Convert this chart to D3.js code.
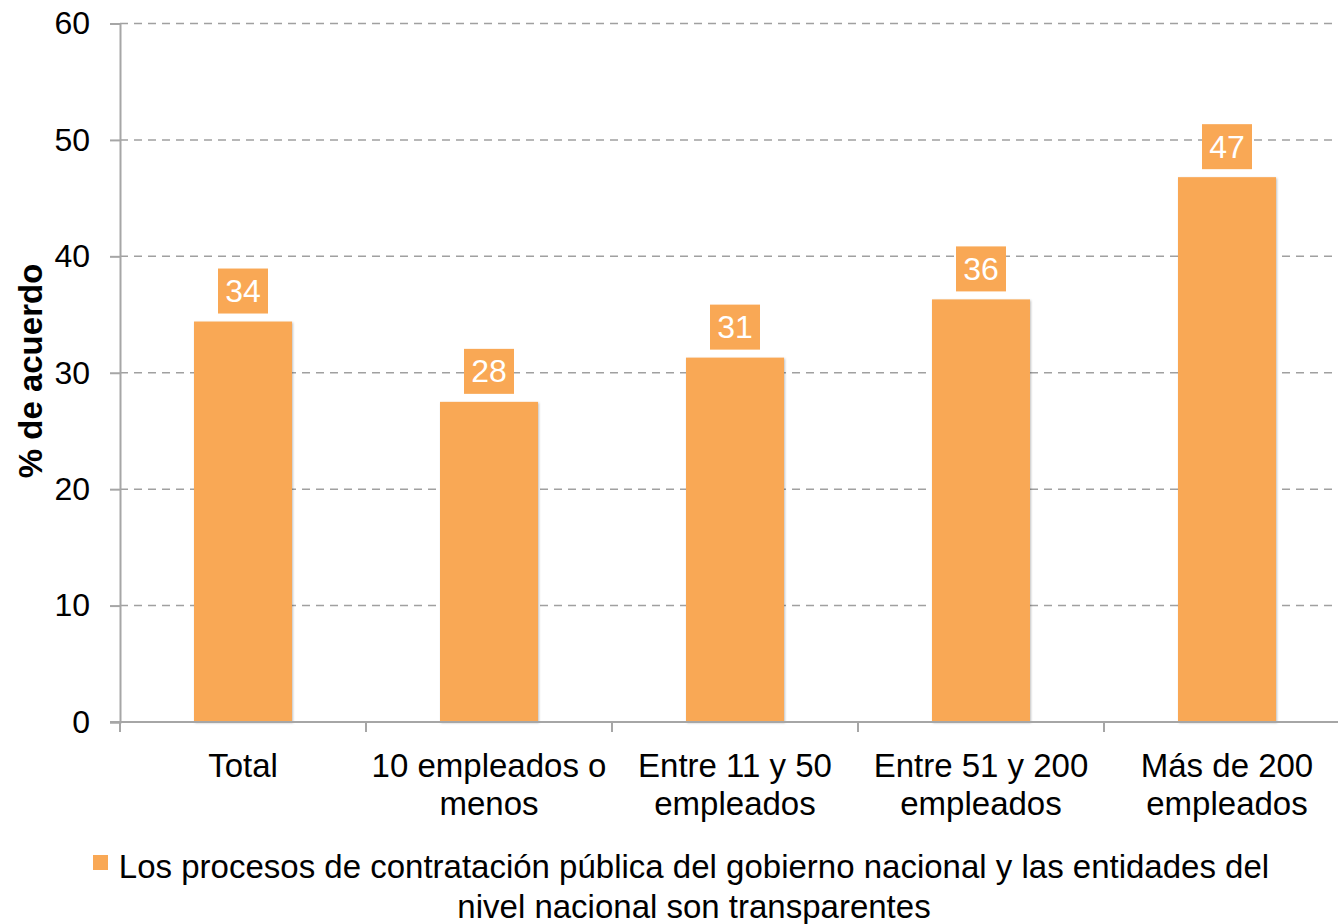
<!DOCTYPE html>
<html lang="es">
<head>
<meta charset="UTF-8">
<script src="https://d3js.org/d3.v7.min.js"></script>
<style>
  body { margin: 0; background: #fff; }
  text { font-family: "Liberation Sans", Arial, sans-serif; }
</style>
</head>
<body>
<script>
// data
var categories = [["Total"], ["10 empleados o", "menos"], ["Entre 11 y 50", "empleados"], ["Entre 51 y 200", "empleados"], ["Más de 200", "empleados"]];
var values = [34.4, 27.5, 31.3, 36.3, 46.8];
var yTicks = [0, 10, 20, 30, 40, 50, 60];
var legendLines = ["Los procesos de contratación pública del gobierno nacional y las entidades del", "nivel nacional son transparentes"];

var W = 1338, H = 924;
var mLeft = 120, mTop = 23.5, plotRight = 1350, mBottom = 722;
var barColor = "#f9a855";

var svg = d3.select("body").append("svg")
    .attr("width", W).attr("height", H);

var x = d3.scaleBand()
    .domain(d3.range(categories.length))
    .range([mLeft, plotRight])
    .paddingInner(0.6).paddingOuter(0.3);

var y = d3.scaleLinear().domain([0, 60]).range([mBottom, mTop]);

// gridlines
svg.append("g").selectAll("line")
    .data(yTicks.filter(function (d) { return d > 0; }))
    .enter().append("line")
    .attr("x1", mLeft).attr("x2", W)
    .attr("y1", function (d) { return y(d); })
    .attr("y2", function (d) { return y(d); })
    .attr("stroke", "#a0a0a0").attr("stroke-width", 1.5)
    .attr("stroke-dasharray", "8,6");

// bars with faint shadow
var defs = svg.append("defs");
var f = defs.append("filter").attr("id", "sh").attr("x", "-10%").attr("y", "-10%").attr("width", "120%").attr("height", "120%");
f.append("feDropShadow").attr("dx", 1).attr("dy", 1).attr("stdDeviation", 1.2).attr("flood-color", "#000").attr("flood-opacity", 0.25);

var bandStep = x.step();
svg.append("g").selectAll("rect")
    .data(values)
    .enter().append("rect")
    .attr("x", function (d, i) { return x(i) + x.bandwidth() / 2 - 49; })
    .attr("width", 98)
    .attr("y", function (d) { return y(d); })
    .attr("height", function (d) { return mBottom - y(d); })
    .attr("fill", barColor)
    .attr("filter", "url(#sh)");

// value labels
var lab = svg.append("g").selectAll("g")
    .data(values)
    .enter().append("g")
    .attr("transform", function (d, i) {
        return "translate(" + (x(i) + x.bandwidth() / 2) + "," + (y(d) - 31) + ")";
    });
lab.append("rect")
    .attr("x", -25).attr("y", -22).attr("width", 50).attr("height", 45)
    .attr("fill", barColor);
lab.append("text")
    .attr("text-anchor", "middle").attr("dy", "0.36em")
    .attr("font-size", 32).attr("fill", "#fff")
    .text(function (d) { return Math.round(d); });

// y axis
var yAxis = d3.axisLeft(y).tickValues(yTicks).tickSize(10).tickPadding(20);
var gy = svg.append("g").attr("transform", "translate(" + mLeft + ",0)").call(yAxis);
gy.select(".domain").attr("stroke", "#a6a6a6").attr("stroke-width", 2);
gy.selectAll(".tick line").attr("stroke", "#a6a6a6").attr("stroke-width", 2);
gy.selectAll(".tick text").attr("font-size", 32).attr("fill", "#000")
    .style("font-family", "Liberation Sans, Arial, sans-serif");

// x axis baseline and ticks at band boundaries
svg.append("line")
    .attr("x1", mLeft - 10).attr("x2", W).attr("y1", mBottom).attr("y2", mBottom)
    .attr("stroke", "#a6a6a6").attr("stroke-width", 2);
var bounds = d3.range(categories.length + 1).map(function (i) { return mLeft + i * bandStep; });
svg.append("g").selectAll("line")
    .data(bounds)
    .enter().append("line")
    .attr("x1", function (d) { return d; }).attr("x2", function (d) { return d; })
    .attr("y1", mBottom).attr("y2", mBottom + 10)
    .attr("stroke", "#a6a6a6").attr("stroke-width", 2);

// category labels
var cl = svg.append("g").selectAll("text")
    .data(categories)
    .enter().append("text")
    .attr("text-anchor", "middle")
    .attr("font-size", 33).attr("fill", "#000")
    .attr("x", function (d, i) { return x(i) + x.bandwidth() / 2; })
    .attr("y", 777);
cl.selectAll("tspan")
    .data(function (d) { return d; })
    .enter().append("tspan")
    .attr("x", function () { return d3.select(this.parentNode).attr("x"); })
    .attr("dy", function (d, i) { return i === 0 ? 0 : 38; })
    .text(function (d) { return d; });

// y title
svg.append("text")
    .attr("transform", "translate(42,371) rotate(-90)")
    .attr("text-anchor", "middle")
    .attr("font-size", 33).attr("font-weight", "bold")
    .text("% de acuerdo");

// legend
svg.append("rect")
    .attr("x", 93).attr("y", 855).attr("width", 15).attr("height", 15)
    .attr("fill", barColor);
svg.append("g").selectAll("text")
    .data(legendLines)
    .enter().append("text")
    .attr("text-anchor", "middle")
    .attr("x", 694)
    .attr("y", function (d, i) { return 878 + i * 40; })
    .attr("font-size", 33).attr("fill", "#000")
    .text(function (d) { return d; });
</script>
</body>
</html>
